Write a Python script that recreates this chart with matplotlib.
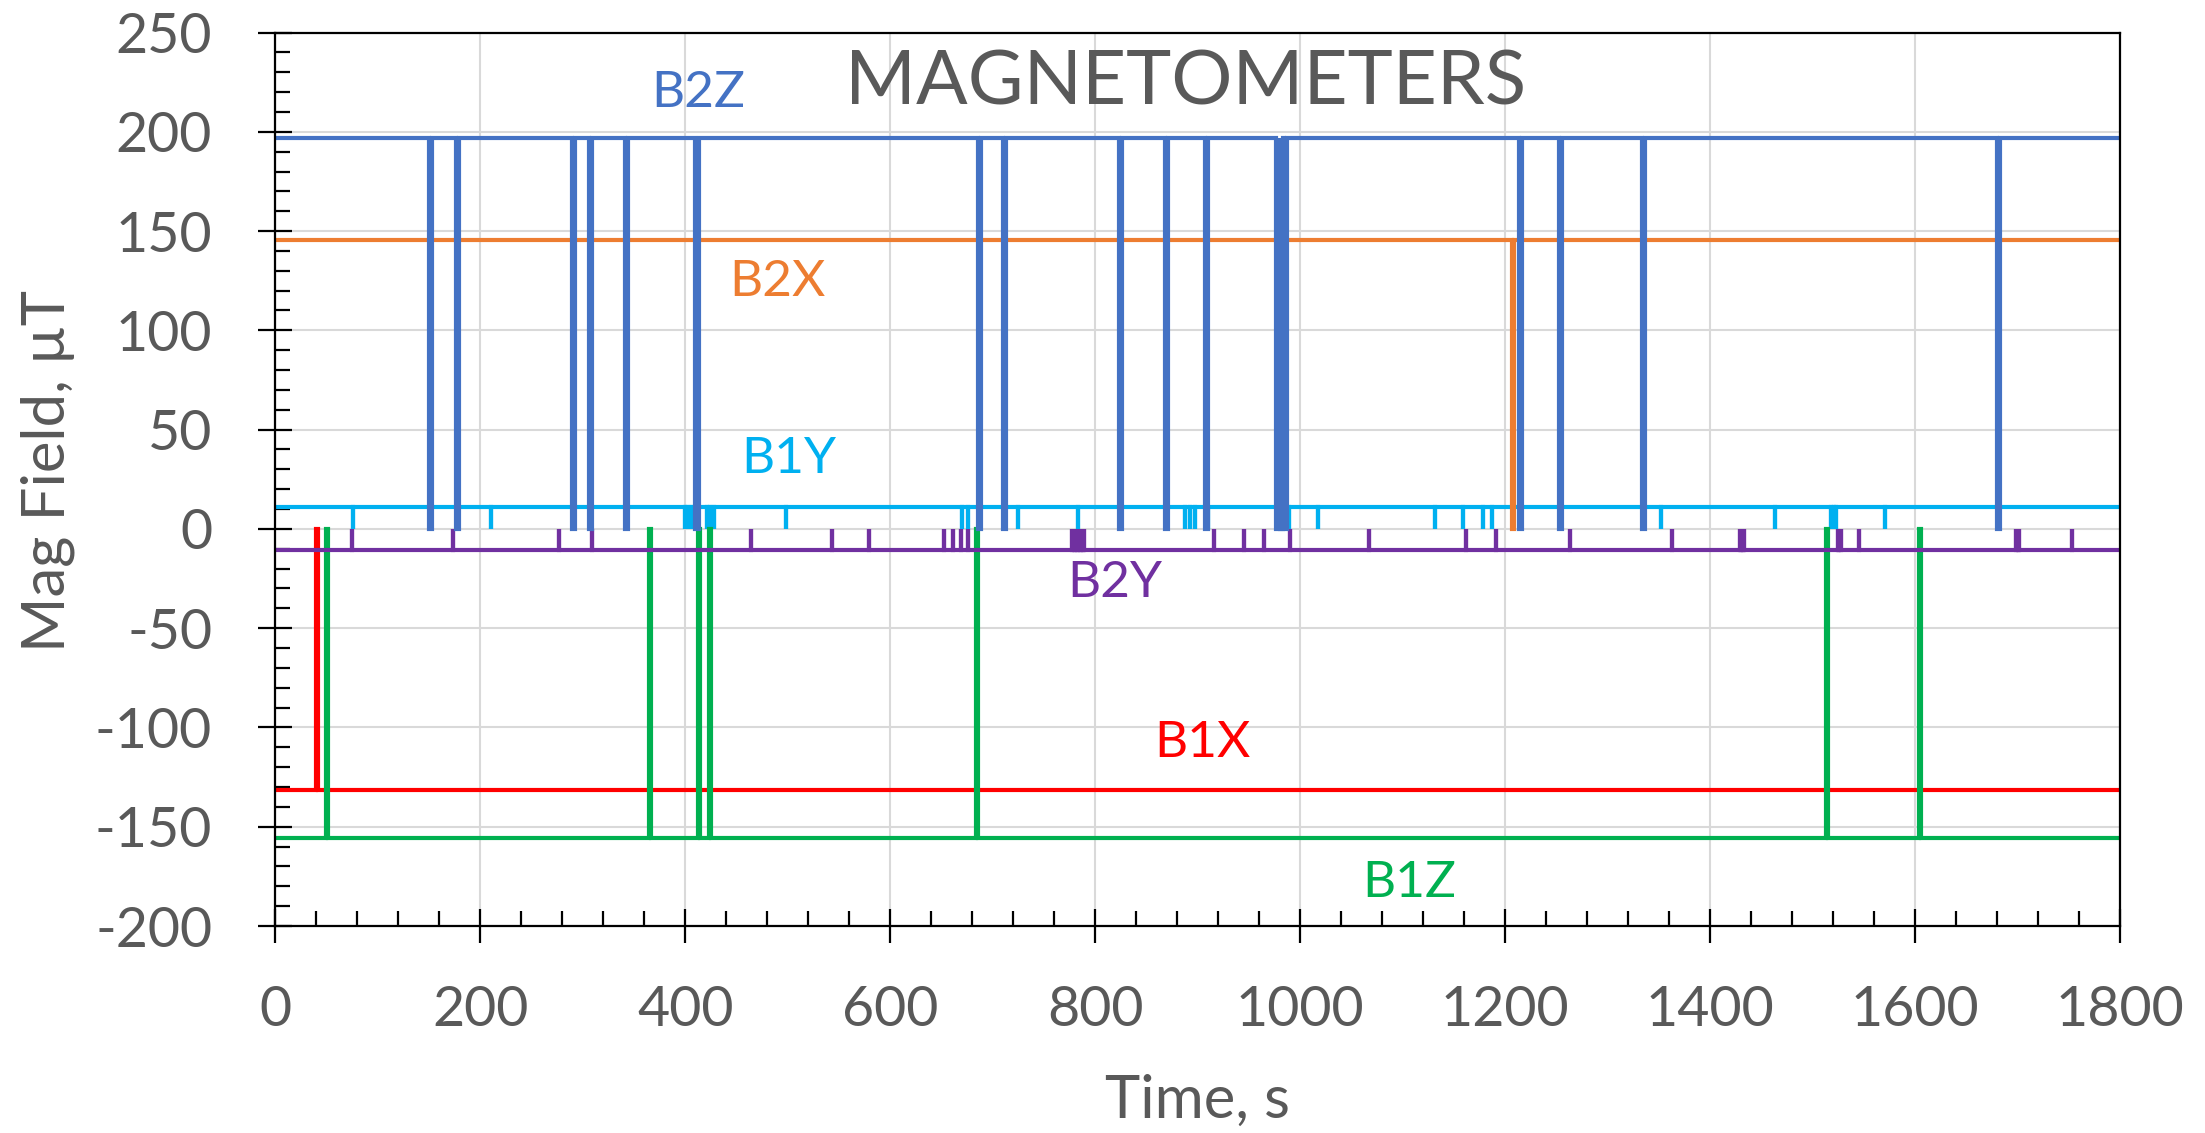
import matplotlib.pyplot as plt

# baseline levels of each magnetometer channel, uT
base_b1x = -131.5
base_b1y = 11.0
base_b1z = -155.5
base_b2x = 145.5
base_b2y = -10.5
base_b2z = 197.0

# dropouts: time (s) or (start, end) where the reading falls to zero
drops_b1x = [(40, 42)]
drops_b1y = [76, 210, 400, 403, 406.5, 421, 424.5, 428, 498, 670, 676, 725,
             783.5, 888, 893, 898, 910, 989, 1017.5, 1132, 1159.5, 1179, 1187,
             1352.5, 1464, 1518, 1521, 1523.5, 1570.5]
drops_b1z = [(49.5, 51.5), (364.5, 366.5), (412.5, 414.5), (423.5, 425.5),
             (683.5, 685.5), (1513, 1515), (1604.5, 1606.5)]
drops_b2x = [(1206.5, 1209)]
drops_b2y = [75, 173, 276.5, 309, 464.5, 543, 579, 653, 661, 669, 676,
             777.5, 779, 780.5, 782, 783.5, 785, 786.5, 788, 789,
             916, 945, 965, 990, 1067, 1162, 1191.5, 1263.5, 1363,
             1429, 1430.5, 1432, 1433.5, 1525, 1526.5, 1528, 1546,
             1699, 1700.5, 1702, 1753.5]
drops_b2z = [(150, 153), (176, 179), (289, 292), (306, 309), (341, 344),
             (410, 413), (686, 689), (710, 713), (823, 826), (868.5, 871.5),
             (907, 910), (977, 980), (980.5, 983.5), (984, 987), (1214, 1217),
             (1253, 1256), (1334, 1337), (1680, 1683)]

t_end = 1800


def trace(base, events, low=0.0):
    t = [0.0]
    y = [base]
    for ev in events:
        t0, t1 = ev if isinstance(ev, tuple) else (ev, ev)
        t += [t0, t0, t1, t1]
        y += [base, low, low, base]
    t.append(t_end)
    y.append(base)
    return t, y


series = [
    ('B1X', base_b1x, drops_b1x, '#FF0000', (905, -108)),
    ('B1Y', base_b1y, drops_b1y, '#00B0F0', (501, 35)),
    ('B1Z', base_b1z, drops_b1z, '#00B050', (1107, -178.5)),
    ('B2X', base_b2x, drops_b2x, '#ED7D31', (490, 124.5)),
    ('B2Y', base_b2y, drops_b2y, '#7030A0', (819, -27)),
    ('B2Z', base_b2z, drops_b2z, '#4472C4', (413, 219.5)),
]

plt.rcParams['font.family'] = ['Lato', 'DejaVu Sans']
plt.rcParams['axes.unicode_minus'] = False
grey = '#595959'

fig = plt.figure(figsize=(22.05, 11.33), dpi=100)
ax = fig.add_axes([0.1249, 0.1827, 0.8364, 0.7886])

for name, base, drops, color, (lx, ly) in series:
    t, y = trace(base, drops)
    ax.plot(t, y, color=color, lw=3.0, solid_joinstyle='miter')
    ax.text(lx, ly, name, color=color, fontsize=37, ha='center', va='center')

ax.text(888, 224.5, 'MAGNETOMETERS', color=grey, fontsize=55,
        ha='center', va='center')

ax.set_xlim(0, 1800)
ax.set_ylim(-200, 250)
ax.set_xticks(range(0, 1801, 200))
ax.set_xticks(range(0, 1801, 40), minor=True)
ax.set_yticks(range(-200, 251, 50))
ax.set_yticks(range(-200, 251, 10), minor=True)

ax.grid(True, which='major', color='#D9D9D9', lw=1.5)
ax.set_axisbelow(True)
for s in ax.spines.values():
    s.set_color('black')
    s.set_linewidth(1.6)

ax.tick_params(which='major', direction='inout', length=25, width=1.6,
               color='black', labelsize=40, labelcolor=grey)
ax.tick_params(axis='y', which='major', pad=33)
ax.tick_params(axis='x', which='major', pad=30)
ax.tick_params(which='minor', direction='in', length=11, width=1.6,
               color='black')

ax.set_xlabel('Time, s', fontsize=43, color=grey)
ax.set_ylabel('Mag Field, µT', fontsize=43, color=grey)
ax.xaxis.label.set_va('center')
ax.yaxis.label.set_va('center')
ax.xaxis.set_label_coords(0.5, -0.196)
ax.yaxis.set_label_coords(-0.1234, 0.509)

fig.savefig('out.png', dpi=100)
